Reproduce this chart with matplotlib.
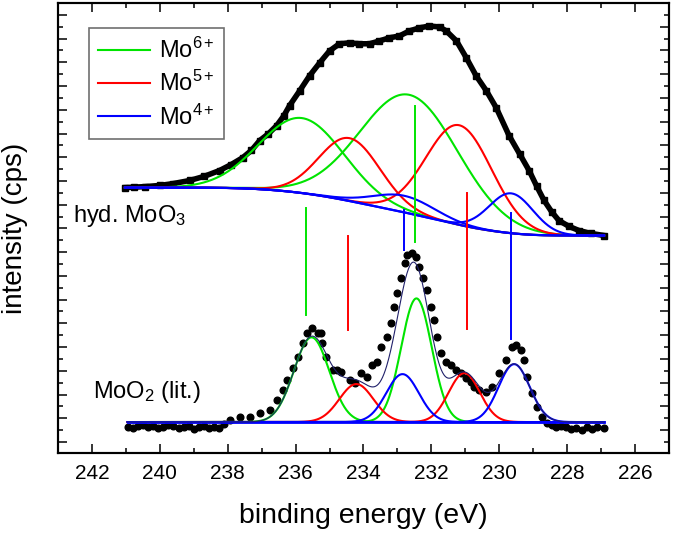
import matplotlib.pyplot as plt
import numpy as np
from matplotlib.lines import Line2D

plt.rcParams['font.family'] = ['Liberation Sans', 'DejaVu Sans']
plt.rcParams['mathtext.fontset'] = 'custom'
plt.rcParams['mathtext.rm'] = 'Liberation Sans'
plt.rcParams['mathtext.it'] = 'Liberation Sans:italic'
plt.rcParams['mathtext.bf'] = 'Liberation Sans:bold'

GREEN = '#00e400'
RED = '#ff0000'
BLUE = '#0000ff'
species_colors = {'Mo6+': GREEN, 'Mo5+': RED, 'Mo4+': BLUE}

# hyd. MoO3 measured spectrum (binding energy / eV, intensity / arb. u.)
hyd_energy = [241.03, 240.75, 240.45, 240.0, 239.6, 239.12, 238.7, 238.24, 237.9, 237.56,
              237.3, 237.06, 236.8, 236.56, 236.35, 236.18, 235.88, 235.59, 235.29, 235.0,
              234.71, 234.41, 234.12, 233.82, 233.53, 233.24, 232.94, 232.65, 232.35, 232.06,
              231.76, 231.56, 231.26, 230.97, 230.68, 230.38, 230.09, 229.71, 229.4, 229.12,
              228.9, 228.68, 228.45, 228.24, 227.95, 227.65, 227.3, 226.91]
hyd_counts = [9.88, 9.90, 9.92, 9.97, 10.05, 10.18, 10.35, 10.60, 10.85, 11.14,
              11.45, 11.86, 12.15, 12.49, 12.90, 13.33, 13.96, 14.59, 15.14, 15.64,
              15.94, 15.98, 15.94, 15.94, 16.06, 16.19, 16.27, 16.48, 16.61, 16.69,
              16.65, 16.48, 16.06, 15.35, 14.59, 13.96, 13.25, 12.07, 11.30, 10.60,
              9.95, 9.34, 8.85, 8.49, 8.25, 8.07, 7.95, 7.86]

# hyd. MoO3 fit (Shirley background + gaussian components)
hyd_bg_high = 9.88
hyd_bg_low = 7.86
hyd_species = ['Mo6+', 'Mo6+', 'Mo5+', 'Mo5+', 'Mo4+', 'Mo4+']
hyd_centers = [235.82, 232.65, 234.41, 231.18, 232.80, 229.65]
hyd_heights = [3.16, 5.00, 2.65, 4.20, 0.70, 1.68]
hyd_sigmas = [1.25, 1.45, 0.90, 0.97, 0.90, 0.65]

# MoO2 literature spectrum
lit_energy = [240.95, 240.80, 240.65, 240.50, 240.35, 240.20, 240.05, 239.90, 239.75, 239.60,
              239.45, 239.30, 239.15, 239.00, 238.85, 238.70, 238.55, 238.40, 238.25, 238.10,
              237.94, 237.65, 237.35, 237.06, 236.76, 236.56, 236.38, 236.24, 236.09, 235.94,
              235.79, 235.65, 235.53, 235.35, 235.24, 235.21, 235.09, 234.91, 234.79, 234.65,
              234.41, 234.26, 234.06, 233.91, 233.76, 233.59, 233.47, 233.32, 233.18, 233.09,
              233.00, 232.88, 232.79, 232.71, 232.56, 232.44, 232.35, 232.26, 232.12, 232.00,
              231.91, 231.82, 231.71, 231.56, 231.41, 231.26, 231.12, 230.97, 230.82, 230.74,
              230.59, 230.38, 230.21, 230.00, 229.79, 229.62, 229.50, 229.35, 229.26, 229.18,
              229.03, 228.88, 228.74, 228.59, 228.44, 228.32, 228.18, 228.03, 227.88, 227.74,
              227.56, 227.41, 227.26, 227.12, 226.91]
lit_counts = [-0.21, -0.25, -0.17, -0.13, -0.21, -0.17, -0.25, -0.21, -0.13, -0.17,
              -0.25, -0.21, -0.17, -0.29, -0.21, -0.17, -0.25, -0.21, -0.25, -0.08,
              0.08, 0.21, 0.21, 0.38, 0.50, 0.93, 1.35, 1.77, 2.27, 2.73,
              3.32, 3.74, 3.95, 3.74, 3.74, 3.32, 2.73, 2.19, 2.19, 2.10,
              1.77, 1.64, 2.06, 1.89, 2.40, 2.52, 3.15, 3.57, 4.16, 4.84,
              5.42, 6.09, 6.69, 7.02, 7.11, 6.94, 6.52, 6.09, 5.55, 4.84,
              4.29, 3.57, 2.90, 2.52, 2.40, 2.19, 2.06, 1.85, 1.68, 1.47,
              1.35, 1.26, 1.47, 2.06, 2.61, 3.15, 3.24, 3.03, 2.61, 1.89,
              1.22, 0.63, 0.21, -0.04, -0.13, -0.21, -0.17, -0.21, -0.29, -0.25,
              -0.34, -0.21, -0.29, -0.21, -0.25]

lit_species = ['Mo6+', 'Mo6+', 'Mo5+', 'Mo5+', 'Mo4+', 'Mo4+']
lit_centers = [235.53, 232.44, 234.21, 231.03, 232.85, 229.56]
lit_heights = [3.57, 5.21, 1.60, 2.06, 2.02, 2.44]
lit_sigmas = [0.52, 0.45, 0.50, 0.46, 0.48, 0.46]

# reference positions (vertical markers)
ref_species = ['Mo6+', 'Mo6+', 'Mo5+', 'Mo5+', 'Mo4+', 'Mo4+']
ref_energy = [235.68, 232.47, 234.47, 230.94, 232.82, 229.65]
ref_top = [9.00, 13.33, 7.86, 9.67, 8.92, 8.79]
ref_bottom = [4.50, 7.57, 3.87, 3.91, 7.23, 3.49]


def gauss(e, c, h, s):
    return h * np.exp(-(e - c) ** 2 / (2 * s ** 2))


fig = plt.figure(figsize=(6.75, 5.34), dpi=100)
ax = fig.add_axes([0.086, 0.1517, 0.905, 0.8427])

# upper spectrum
ax.plot(hyd_energy, hyd_counts, color='black', lw=4.0, marker='s', ms=4.6,
        solid_joinstyle='round', zorder=2)
e_hyd = np.linspace(hyd_energy[0], hyd_energy[-1], 700)
comps = [gauss(e_hyd, c, h, s) for c, h, s in zip(hyd_centers, hyd_heights, hyd_sigmas)]
total = np.sum(comps, axis=0)
area = np.cumsum(total[::-1])[::-1]
bg = hyd_bg_low + (hyd_bg_high - hyd_bg_low) * area / area[0]
for sp, comp in zip(hyd_species, comps):
    ax.plot(e_hyd, bg + comp, color=species_colors[sp], lw=1.5, zorder=3)
ax.plot(e_hyd, bg, color=BLUE, lw=1.6, zorder=3)

# lower spectrum
ax.plot(lit_energy, lit_counts, 'o', color='black', ms=4.8, zorder=2)
e_lit = np.linspace(lit_energy[0], lit_energy[-1], 700)
lcomps = [gauss(e_lit, c, h, s) for c, h, s in zip(lit_centers, lit_heights, lit_sigmas)]
for sp, comp in zip(lit_species, lcomps):
    ax.plot(e_lit, comp, color=species_colors[sp], lw=1.5, zorder=3)
ax.plot(e_lit, np.zeros_like(e_lit), color=BLUE, lw=2, zorder=3)
ax.plot(e_lit, np.sum(lcomps, axis=0), color='#20206a', lw=0.8, zorder=4)

for sp, e, y0, y1 in zip(ref_species, ref_energy, ref_bottom, ref_top):
    ax.plot([e, e], [y0, y1], color=species_colors[sp], lw=1.4, zorder=3)

ax.text(242.56, 8.41, 'hyd. MoO$_3$', fontsize=17, va='baseline', ha='left')
ax.text(241.97, 1.01, 'MoO$_2$ (lit.)', fontsize=17, va='baseline', ha='left')

ax.set_xlim(243, 225)
ylim = (-1.304, 17.62)
ax.set_ylim(ylim)
ax.set_xticks(np.arange(242, 225, -2))
ax.set_xticks(np.arange(243, 224.5, -1), minor=True)
ax.set_yticks(np.arange(0, 19) - 0.841)
ax.set_yticks(np.arange(0, 19) - 0.341, minor=True)
ax.set_yticklabels([])
ax.tick_params(which='both', direction='in', top=True, width=1.1)
ax.tick_params(which='major', length=6.5, labelsize=15, pad=8)
ax.tick_params(which='minor', length=3.5)
for sp in ax.spines.values():
    sp.set_linewidth(1.5)

ax2 = ax.twinx()
ax2.set_ylim(ylim)
ax2.set_yticks(np.arange(0, 19) - 0.341)
ax2.set_yticks(np.arange(0, 19) - 0.841, minor=True)
ax2.set_yticklabels([])
ax2.tick_params(which='both', direction='in', width=1.1)
ax2.tick_params(which='major', length=6.5)
ax2.tick_params(which='minor', length=3.5)
for sp in ax2.spines.values():
    sp.set_linewidth(1.5)

ax.set_xlabel('binding energy (eV)', fontsize=20.5, labelpad=14)
ax.set_ylabel('intensity (cps)', fontsize=20)
ax.yaxis.set_label_coords(-0.05, 0.5)

handles = [Line2D([], [], color=GREEN, lw=1.5),
           Line2D([], [], color=RED, lw=1.5),
           Line2D([], [], color=BLUE, lw=1.5)]
leg = ax2.legend(handles, ['Mo$^{6+}$', 'Mo$^{5+}$', 'Mo$^{4+}$'], loc='upper left',
                 bbox_to_anchor=(0.0507, 0.944), borderaxespad=0, fontsize=17,
                 fancybox=False, edgecolor='#707070', framealpha=1,
                 handlelength=2.2, labelspacing=0.35, borderpad=0.4, handletextpad=0.35)
leg.get_frame().set_linewidth(1.2)

fig.savefig('out.png', dpi=100)
